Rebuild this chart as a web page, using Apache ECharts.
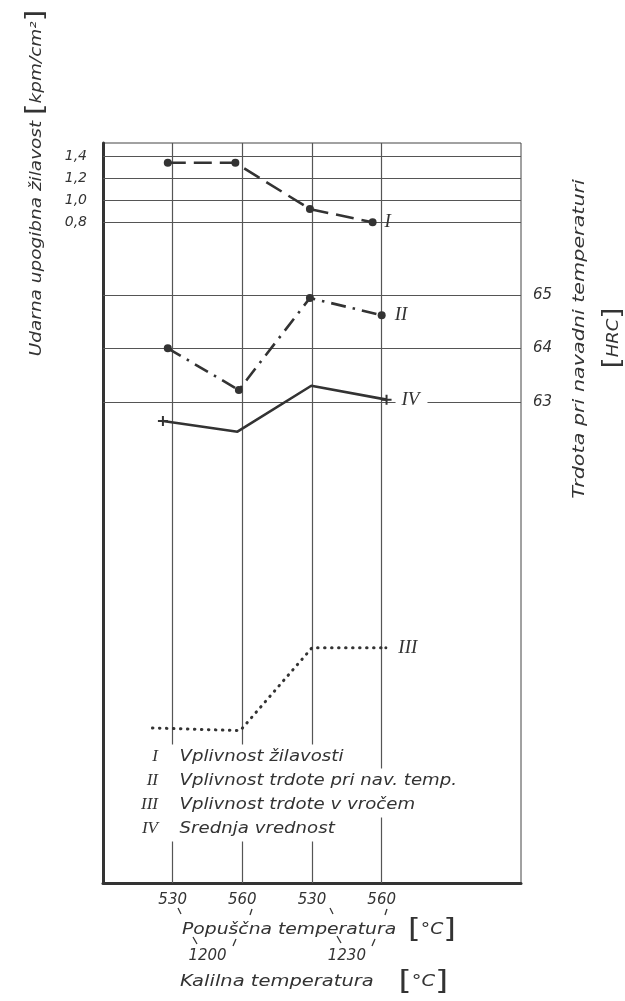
<!DOCTYPE html>
<html>
<head>
<meta charset="utf-8">
<script src="https://cdn.jsdelivr.net/npm/echarts@6/dist/echarts.min.js"></script>
<style>
  html, body { margin: 0; padding: 0; background: #fff; }
  #chart { width: 625px; height: 1001px; }
</style>
</head>
<body>
<div id="chart"></div>
<script>
// Tempering temperatures (two per quench temperature) and quench temperatures
const temperLabels = ['530', '560', '530', '560'];
const quenchLabels = ['1200', '1230'];
const toughTicks = [0.8, 1.0, 1.2, 1.4];
const hrcTicks = [63, 64, 65];

// I – impact bending toughness [kpm/cm²]
const posI = [-0.07, 0.9, 1.97, 2.87];
const toughI = [1.34, 1.34, 0.92, 0.80];
// II – hardness at room temperature [HRC]
const posII = [-0.07, 0.95, 1.97, 3.0];
const hrcII = [64.0, 63.22, 64.94, 64.62];
// IV – mean value
const posIV = [-0.14, 0.93, 1.99, 3.07];
const meanIV = [62.64, 62.44, 63.3, 63.04];
// III – hot hardness
const posIII = [-0.29, 0.97, 2.0, 3.06];
const hotIII = [56.9, 56.85, 58.4, 58.4];

const legendRows = [
  ['I', 'Vplivnost žilavosti'],
  ['II', 'Vplivnost trdote pri nav. temp.'],
  ['III', 'Vplivnost trdote v vročem'],
  ['IV', 'Srednja vrednost']
];

const INK = '#333';
const GRID_INK = '#555';
const SANS = '"DejaVu Sans", sans-serif';
const SERIF = '"Liberation Serif", serif';
const PLUS = 'path://M4,0H6V4H10V6H6V10H4V6H0V4H4Z';

function pairs(xs, ys) { return xs.map((x, i) => [x, ys[i]]); }

function romanLabel(text, extra) {
  return Object.assign({
    show: true, position: 'right', distance: 8, formatter: text,
    color: INK, fontFamily: SERIF, fontStyle: 'italic', fontSize: 19
  }, extra || {});
}

// the last point carries the curve's roman numeral
function withEndLabel(data, text, extra, dotSize) {
  return data.map((d, i) => {
    if (i !== data.length - 1) return d;
    const item = { value: d, label: romanLabel(text, extra) };
    if (dotSize) {
      item.symbol = 'circle';
      item.symbolSize = dotSize;
    }
    return item;
  });
}

// wide technical lettering: text stretched along its baseline
function title(x, y, text, opts) {
  return Object.assign({
    type: 'text', x: x, y: y, z: 100, silent: true,
    style: Object.assign({
      text: text, font: 'italic 15px ' + SANS, fill: INK,
      align: 'left', verticalAlign: 'middle', textAlign: 'left', textVerticalAlign: 'middle'
    }, opts.style || {})
  }, opts.el || {});
}

const chart = echarts.init(document.getElementById('chart'), null, { renderer: 'canvas' });

const ruled = {
  silent: true, animation: false,
  symbol: ['none', 'none'], label: { show: false },
  lineStyle: { color: GRID_INK, width: 1.2, type: 'solid' },
  emphasis: { disabled: true }
};

const option = {
  animation: false,
  backgroundColor: '#fff',
  grid: { left: 103, right: 104, top: 143, bottom: 118, show: true, borderColor: '#444', borderWidth: 1 },
  xAxis: [
    {
      type: 'value', min: -1, max: 5, interval: 1, position: 'bottom',
      axisLine: { show: true, onZero: false, lineStyle: { color: INK, width: 3 } },
      axisTick: { show: false }, splitLine: { show: false },
      axisLabel: {
        margin: 10, color: INK, fontFamily: SANS, fontStyle: 'italic', fontSize: 15,
        formatter: v => {
          const i = Math.round(v);
          return Math.abs(v - i) < 1e-6 && temperLabels[i] ? temperLabels[i] : '';
        }
      }
    },
    {
      type: 'value', min: -1, max: 5, interval: 0.5, position: 'bottom',
      axisLine: { show: false }, axisTick: { show: false }, splitLine: { show: false },
      axisLabel: {
        margin: 66, color: INK, fontFamily: SANS, fontStyle: 'italic', fontSize: 15,
        formatter: v => Math.abs(v - 0.5) < 1e-6 ? quenchLabels[0] : Math.abs(v - 2.5) < 1e-6 ? quenchLabels[1] : ''
      }
    }
  ],
  yAxis: [
    {
      type: 'value', min: -5.2, max: 1.52, interval: 0.2, position: 'left',
      axisLine: { show: true, onZero: false, lineStyle: { color: INK, width: 3 } },
      axisTick: { show: false }, splitLine: { show: false },
      axisLabel: {
        margin: 16, color: INK, fontFamily: SANS, fontStyle: 'italic', fontSize: 14,
        formatter: v => toughTicks.some(t => Math.abs(t - v) < 1e-6) ? v.toFixed(1).replace('.', ',') : ''
      }
    },
    {
      type: 'value', min: 54, max: 67.84, interval: 1, position: 'right',
      axisLine: { show: false }, axisTick: { show: false }, splitLine: { show: false },
      axisLabel: {
        margin: 12, color: INK, fontFamily: SANS, fontStyle: 'italic', fontSize: 15,
        formatter: v => hrcTicks.some(t => Math.abs(t - v) < 1e-6) ? String(Math.round(v)) : ''
      }
    }
  ],
  series: [
    // ruled lines: toughness levels and tempering-temperature verticals
    {
      type: 'line', data: [], xAxisIndex: 0, yAxisIndex: 0, z: 1, silent: true,
      markLine: Object.assign({}, ruled, {
        data: toughTicks.map(v => ({ yAxis: v })).concat(temperLabels.map((_, i) => ({ xAxis: i })))
      })
    },
    // ruled lines: HRC levels
    {
      type: 'line', data: [], xAxisIndex: 0, yAxisIndex: 1, z: 1, silent: true,
      markLine: Object.assign({}, ruled, { data: hrcTicks.map(v => ({ yAxis: v })) })
    },
    {
      name: 'I', type: 'line', xAxisIndex: 0, yAxisIndex: 0, z: 5,
      data: withEndLabel(pairs(posI, toughI), 'I'),
      symbol: 'circle', symbolSize: 8, showAllSymbol: true,
      itemStyle: { color: INK },
      lineStyle: { color: INK, width: 2.6, type: [18, 8] }
    },
    {
      name: 'II', type: 'line', xAxisIndex: 0, yAxisIndex: 1, z: 5,
      data: withEndLabel(pairs(posII, hrcII), 'II', { distance: 9 }),
      symbol: 'circle', symbolSize: 8, showAllSymbol: true,
      itemStyle: { color: INK },
      lineStyle: { color: INK, width: 2.6, type: [15, 7, 2.5, 7] }
    },
    {
      name: 'IV', type: 'line', xAxisIndex: 0, yAxisIndex: 1, z: 5,
      data: pairs(posIV, meanIV).map((d, i, arr) => {
        if (i === 0) return { value: d, symbol: PLUS, symbolSize: 10 };
        if (i === arr.length - 1) return {
          value: d, symbol: PLUS, symbolSize: 10,
          label: romanLabel('IV', { distance: 4, backgroundColor: '#fff', padding: [2, 8, 2, 6] })
        };
        return { value: d, symbol: 'none' };
      }),
      showAllSymbol: true,
      itemStyle: { color: INK },
      lineStyle: { color: INK, width: 2.6, type: 'solid' }
    },
    {
      name: 'III', type: 'line', xAxisIndex: 0, yAxisIndex: 1, z: 5,
      data: withEndLabel(pairs(posIII, hotIII), 'III', { distance: 11 }, 3),
      symbol: 'none', showAllSymbol: true,
      itemStyle: { color: INK },
      lineStyle: { color: INK, width: 3, type: [0.5, 6.5], cap: 'round' }
    }
  ],
  graphic: [
    // axis titles
    title(37, 183, 'Udarna upogibna žilavost {b|[}kpm/cm²{b|]}', {
      el: { rotation: Math.PI / 2, scaleX: 1.23 },
      style: { align: 'center', textAlign: 'center', rich: { b: { fontSize: 24, fontFamily: SANS } } }
    }),
    title(580, 339, 'Trdota pri navadni temperaturi', {
      el: { rotation: Math.PI / 2, scaleX: 1.38 },
      style: { align: 'center', textAlign: 'center' }
    }),
    title(614, 338, '{b|[}HRC{b|]}', {
      el: { rotation: Math.PI / 2, scaleX: 1.2 },
      style: { align: 'center', textAlign: 'center', rich: { b: { fontSize: 24, fontFamily: SANS } } }
    }),
    title(182, 930, 'Popuščna temperatura  {b|[}°C{b|]}', {
      el: { scaleX: 1.25 },
      style: { rich: { b: { fontSize: 26, fontFamily: SANS } } }
    }),
    title(180, 982, 'Kalilna temperatura    {b|[}°C{b|]}', {
      el: { scaleX: 1.3 },
      style: { rich: { b: { fontSize: 26, fontFamily: SANS } } }
    }),
    // bracket strokes tying tempering temperatures to their quench temperature
    ...[
      [178, 908, 181, 914], [193, 937, 197, 944],
      [252, 909, 250, 915], [236, 939, 233, 946],
      [330, 908, 333, 914], [337, 936, 341, 943],
      [387, 909, 385, 915], [375, 939, 372, 946]
    ].map(s => ({
      type: 'line', z: 100, silent: true,
      shape: { x1: s[0], y1: s[1], x2: s[2], y2: s[3] },
      style: { stroke: INK, lineWidth: 1.3 }
    })),
    // key of the curves: descriptions
    ...legendRows.map((r, i) => title(159, 757 + i * 24, r[1], {
      el: { scaleX: 1.21 },
      style: { backgroundColor: '#fff', padding: [5, 7, 5, 17] }
    })),
    // key of the curves: numerals
    ...legendRows.map((r, i) => title(159, 757 + i * 24, r[0], {
      el: { z: 101 },
      style: {
        font: 'italic 17px ' + SERIF, align: 'right', textAlign: 'right',
        backgroundColor: '#fff', padding: [5, 1, 5, 20]
      }
    }))
  ]
};

chart.setOption(option);
</script>
</body>
</html>
